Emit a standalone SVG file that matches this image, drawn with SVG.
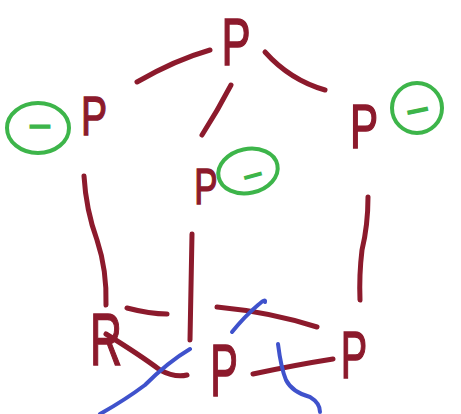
<svg xmlns="http://www.w3.org/2000/svg" width="461" height="414" viewBox="0 0 461 414">
<style>
.r{fill:none;stroke:#8c1a2c;stroke-width:5;stroke-linecap:round;stroke-linejoin:round}
.b{fill:none;stroke:#3f52cc;stroke-width:4;stroke-linecap:round;stroke-linejoin:round}
.g{fill:none;stroke:#3db54a;stroke-width:4}
.t{font-family:"Liberation Sans",Arial,sans-serif;fill:#8c1a2c;text-anchor:middle;stroke:#8c1a2c;stroke-width:1.5}
.m{font-family:"Liberation Sans",Arial,sans-serif;fill:#3db54a;text-anchor:middle;stroke:#3db54a;stroke-width:1.5}
</style>
<rect width="461" height="414" fill="#fff"/>
<g id="connectors">
<path class="r" d="M137,82 Q175,60 210,50"/>
<path class="r" d="M265,52 Q290,80 325,90"/>
<path class="r" d="M231,85 Q218,110 202,135"/>
<path class="r" d="M84,176 Q86,210 97,240 Q107,270 106,305"/>
<path class="r" d="M192,234 L190,340"/>
<path class="r" d="M368,197 Q368,225 362,250 Q359,275 360,300"/>
<path class="r" d="M127,308 Q150,314 167,314"/>
<path class="r" d="M217,307 Q270,312 317,327"/>
<path class="r" d="M253,374 Q295,365 333,359"/>
<path class="r" d="M106,334 Q140,355 160,370 Q175,378 187,375"/>
<path class="b" d="M100,414 Q125,400 145,385 Q168,362 190,349"/>
<path class="b" d="M232,332 Q245,316 258,305 Q266,298 265,302"/>
<path class="b" d="M278,344 Q281,368 286,380 Q292,392 310,397 Q320,403 320,412"/>
</g>
<g id="n-top"><text class="t" font-size="66" transform="translate(236,65) scale(0.66,1)">P</text></g>
<g id="n-left"><text class="t" font-size="56" transform="translate(94,135) scale(0.7,1)">P</text>
<ellipse class="g" cx="38" cy="128" rx="31" ry="25"/><text class="m" font-size="40" x="40" y="140">−</text></g>
<g id="n-right"><text class="t" font-size="62" transform="translate(364,148) scale(0.68,1)">P</text>
<ellipse class="g" cx="417" cy="108" rx="25" ry="25"/><text class="m" font-size="40" x="418" y="124" transform="rotate(-12 418 112)">−</text></g>
<g id="n-mid"><text class="t" font-size="50" transform="translate(206,204) scale(0.7,1)">P</text>
<ellipse class="g" cx="248" cy="171" rx="30" ry="22" transform="rotate(-12 248 171)"/><text class="m" font-size="34" x="253" y="187" transform="rotate(-15 253 176)">−</text></g>
<g id="n-R"><text class="t" font-size="74" transform="translate(106,365) scale(0.6,1)">R</text></g>
<g id="n-botmid"><text class="t" font-size="74" transform="translate(224,396) scale(0.56,1)">P</text></g>
<g id="n-botright"><text class="t" font-size="66" transform="translate(354,378) scale(0.6,1)">P</text></g>
</svg>
